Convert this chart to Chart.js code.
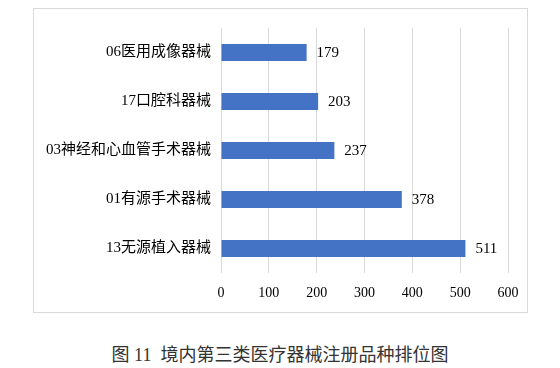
<!DOCTYPE html>
<html>
<head>
<meta charset="utf-8">
<script src="https://cdn.jsdelivr.net/npm/chart.js@4/dist/chart.umd.min.js"></script>
<style>
  html, body { margin: 0; padding: 0; background: #fff; }
  #wrap { position: relative; width: 560px; height: 368px; }
  #box {
    position: absolute; left: 33px; top: 8px;
    width: 493px; height: 303px;
    border: 1px solid #d9d9d9; box-sizing: content-box;
  }
  #caption {
    position: absolute; left: 0; top: 340px; width: 560px;
    text-align: center; font-size: 18px; color: #333;
    font-family: "Liberation Serif", "Noto Sans CJK SC", serif;
  }
</style>
</head>
<body>
<div id="wrap">
  <div id="box"><canvas id="chart" width="493" height="303"></canvas></div>
  <div id="caption">图 11&nbsp; 境内第三类医疗器械注册品种排位图</div>
</div>
<script>
// categories top -> bottom, as in the picture
const categories = ['06医用成像器械', '17口腔科器械', '03神经和心血管手术器械', '01有源手术器械', '13无源植入器械'];
const counts = [179, 203, 237, 378, 511];
const xTicks = [0, 100, 200, 300, 400, 500, 600];

const labelFont = '"Liberation Serif", "Noto Sans CJK SC", serif';

// value labels at the end of each bar
const valueLabels = {
  id: 'valueLabels',
  afterDatasetsDraw(chart) {
    const ctx = chart.ctx;
    const meta = chart.getDatasetMeta(0);
    ctx.save();
    ctx.font = '15px ' + labelFont;
    ctx.fillStyle = '#000';
    ctx.textAlign = 'left';
    ctx.textBaseline = 'middle';
    meta.data.forEach((bar, i) => {
      ctx.fillText(String(counts[i]), bar.x + 10, bar.y + 1);
    });
    ctx.restore();
  }
};

new Chart(document.getElementById('chart'), {
  type: 'bar',
  data: {
    labels: categories,
    datasets: [{
      data: counts,
      backgroundColor: '#4472C4',
      categoryPercentage: 1,
      barPercentage: 0.35
    }]
  },
  options: {
    indexAxis: 'y',
    responsive: false,
    animation: false,
    layout: { padding: { top: 17, right: 19, left: 0, bottom: 0 } },
    plugins: {
      legend: { display: false },
      tooltip: { enabled: false }
    },
    scales: {
      x: {
        min: 0,
        max: 600,
        afterBuildTicks(scale) {
          scale.ticks = xTicks.map(v => ({ value: v }));
        },
        afterFit(scale) {
          scale.height = 39;
          scale.paddingLeft = 0;
          scale.paddingRight = 0;
        },
        grid: { color: '#d9d9d9', drawTicks: false },
        border: { display: false },
        ticks: {
          padding: 12,
          color: '#000',
          font: { size: 14, family: labelFont }
        }
      },
      y: {
        afterFit(scale) { scale.width = 187; },
        grid: { display: false, drawTicks: false },
        border: { display: false },
        ticks: {
          padding: 10,
          color: '#000',
          font: { size: 15, family: labelFont }
        }
      }
    }
  },
  plugins: [valueLabels]
});
</script>
</body>
</html>
